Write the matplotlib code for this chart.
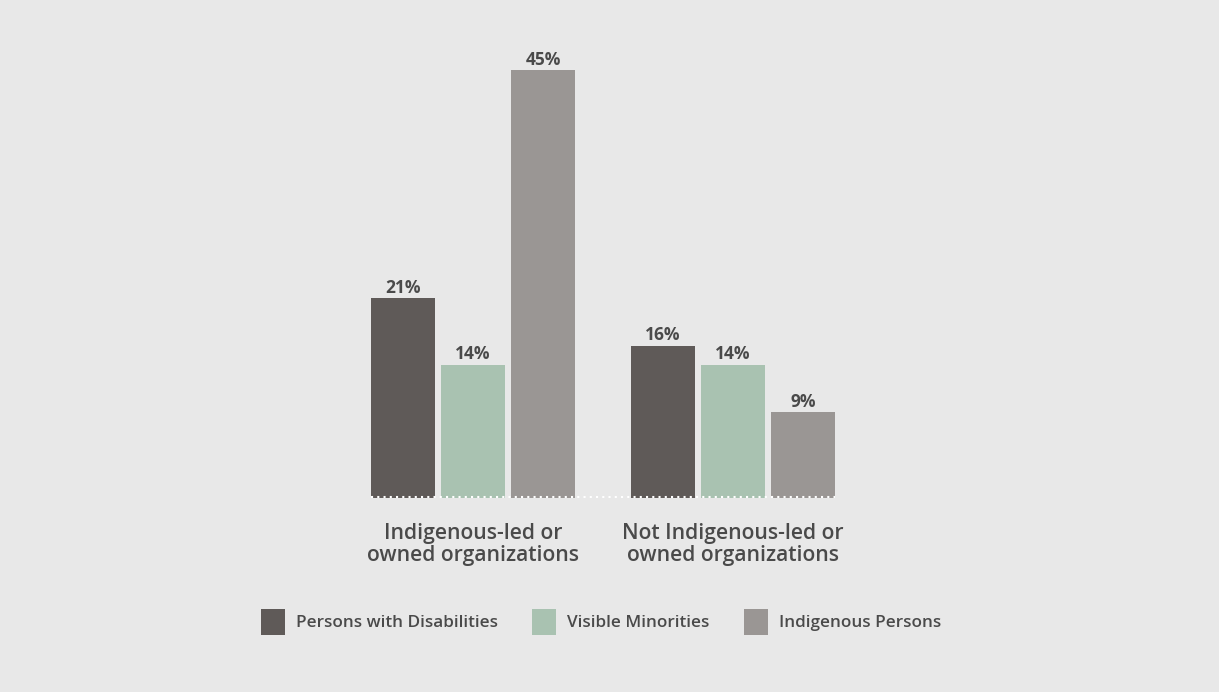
import numpy as np
import matplotlib.pyplot as plt

groups = ['Indigenous-led or\nowned organizations', 'Not Indigenous-led or\nowned organizations']
series = ['Persons with Disabilities', 'Visible Minorities', 'Indigenous Persons']
disab = [21, 16]
minor = [14, 14]
indig = [45, 9]
colors = ['#5f5a58', '#a9c2b1', '#9a9694']

plt.rcParams['font.family'] = ['Open Sans', 'DejaVu Sans']
bg = '#e8e8e8'
txt = '#4a4a4a'

fig = plt.figure(figsize=(12.19, 6.92), dpi=100, facecolor=bg)
ax = fig.add_axes([343 / 1219, 194 / 692, 520 / 1219, 475.5 / 692])
ax.set_facecolor(bg)

x = np.arange(len(groups))
w = 64 / 260
step = 70 / 260
for i, (vals, name) in enumerate(zip([disab, minor, indig], series)):
    pos = x + (i - 1) * step
    bars = ax.bar(pos, vals, width=w, color=colors[i], label=name, zorder=2)
    for b, v in zip(bars, vals):
        ax.text(b.get_x() + b.get_width() / 2, v + 0.15, f'{v}%', ha='center', va='bottom',
                fontsize=12.5, fontweight='bold', color=txt)

# dotted baseline under the bars
ax.hlines(0.15, x[0] - step - w / 2, x[-1] + step + w / 2, colors='white',
          linestyles=(0, (1, 2)), linewidth=1.5, zorder=3, clip_on=False)

ax.set_xlim(-0.5, 1.5)
ax.set_ylim(0, 50)
ax.set_xticks(x)
ax.set_xticklabels(groups, fontsize=15.2, fontweight='semibold', color=txt, linespacing=1.05)
ax.tick_params(axis='x', length=0, pad=18)
ax.set_yticks([])
for s in ax.spines.values():
    s.set_visible(False)

fig.legend(loc='center', bbox_to_anchor=(601 / 1219, 1 - 622 / 692), ncol=3, frameon=False,
           handlelength=1.4, handleheight=1.9, handletextpad=0.65, columnspacing=2.0,
           prop={'size': 12.3, 'weight': 'semibold'}, labelcolor=txt)

fig.savefig('out.png', dpi=100, facecolor=bg)
